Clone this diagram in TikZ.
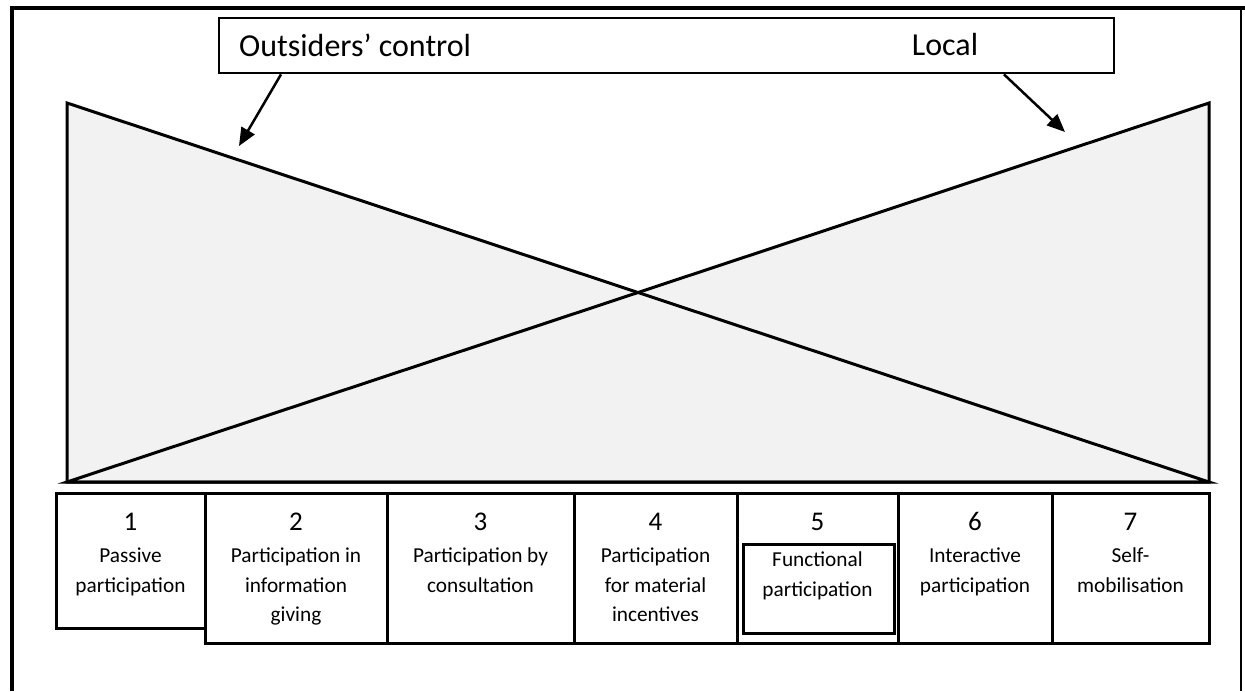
\documentclass[tikz,border=0pt]{standalone}
\usepackage{fontspec}
\setmainfont{Carlito}
\usetikzlibrary{arrows.meta}
\definecolor{panel}{RGB}{242,242,242}
\begin{document}
\begin{tikzpicture}[x=1pt,y=-1pt,
  stage/.style={draw, line width=3pt, rectangle, anchor=north west, inner sep=0pt, outer sep=0pt},
  num/.style={font=\fontsize{27}{30}\selectfont, anchor=base, inner sep=0pt},
  desc/.style={font=\fontsize{21.3}{29.5}\selectfont, align=center, anchor=north, inner sep=0pt},
  pointer/.style={line width=2.5pt, -{Triangle[length=18pt,width=15pt]}},
  wedgeline/.style={line width=3pt, line join=miter},
  heading/.style={font=\fontsize{32}{36}\selectfont, inner sep=0pt}]
\useasboundingbox (0,0) rectangle (1245,691);

% outer frame
\draw[line width=4pt] (12,691) -- (12,8) -- (1245,8);
\draw[line width=1.5pt] (1241,8) -- (1241,691);

% the two crossing wedges: fills first, then outlines
\fill[panel] (67,103) -- (67,482) -- (1209,482) -- cycle;
\fill[panel] (1209,103) -- (1209,482) -- (67,482) -- cycle;
\draw[wedgeline] (67,103) -- (67,482) -- (1209,482) -- cycle;
\draw[wedgeline] (1209,103) -- (1209,482) -- (67,482) -- cycle;

% heading box with its two labels
\node[draw, line width=2.4pt, anchor=north west, minimum width=895pt, minimum height=55pt, inner sep=0pt] (head) at (218,17) {};
\node[heading, anchor=west] (outs) at (239,45) {Outsiders’ control};
\node[heading] (local) at (945,45) {Local};
\coordinate (tipL) at (239,146);
\coordinate (tipR) at (1065,132);
\draw[pointer] ([xshift=63pt]head.south west) -- (tipL);
\draw[pointer] ([xshift=786pt]head.south west) -- (tipR);

% the seven stages
\node[stage, minimum width=149pt, minimum height=135pt] (s1) at (56,493) {};
\node[stage, minimum width=182pt, minimum height=150pt] (s2) at (205,493) {};
\node[stage, minimum width=187pt, minimum height=150pt] (s3) at (387,493) {};
\node[stage, minimum width=163pt, minimum height=150pt] (s4) at (574,493) {};
\node[stage, minimum width=161pt, minimum height=150pt] (s5) at (737,493) {};
\node[stage, minimum width=154pt, minimum height=150pt] (s6) at (898,493) {};
\node[stage, minimum width=157pt, minimum height=150pt] (s7) at (1052,493) {};
\node[draw, line width=3pt, anchor=north west, minimum width=151pt, minimum height=89pt, inner sep=0pt] (s5in) at (742,543) {};

\foreach \s/\n in {s1/1,s2/2,s3/3,s4/4,s5/5,s6/6,s7/7}
  \node[num] (\s num) at ([yshift=-37.5pt]\s.north) {\n};

\node[desc] (s1txt) at ([yshift=-55pt]s1.north) {Passive\\participation};
\node[desc] (s2txt) at ([yshift=-55pt]s2.north) {Participation in\\information\\giving};
\node[desc] (s3txt) at ([yshift=-55pt]s3.north) {Participation by\\consultation};
\node[desc] (s4txt) at ([yshift=-55pt]s4.north) {Participation\\for material\\incentives};
\node[desc] (s5txt) at ([yshift=-59pt]s5.north) {Functional\\participation};
\node[desc] (s6txt) at ([yshift=-55pt]s6.north) {Interactive\\participation};
\node[desc] (s7txt) at ([yshift=-55pt]s7.north) {Self-\\mobilisation};
\end{tikzpicture}
\end{document}
